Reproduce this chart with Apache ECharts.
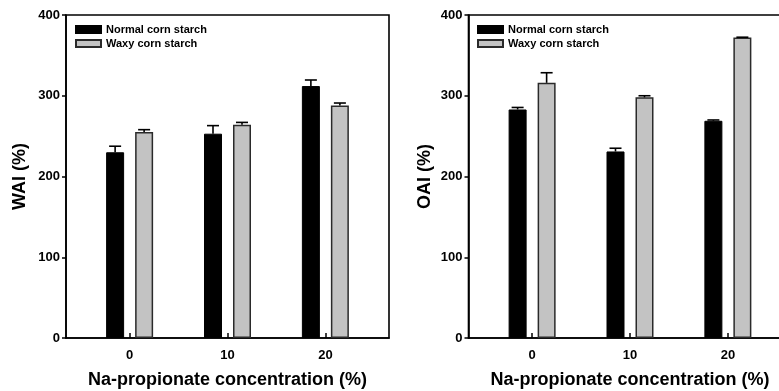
<!DOCTYPE html>
<html>
<head>
<meta charset="utf-8">
<script src="https://cdn.jsdelivr.net/npm/echarts@6/dist/echarts.min.js"></script>
<style>
  html, body { margin: 0; padding: 0; background: #fff; overflow: hidden; }
  #chart { width: 795px; height: 391px; }
</style>
</head>
<body>
<div id="chart"></div>
<script>
// Na-propionate concentrations (%)
const concentrations = [0, 10, 20];
const tickValues = [0, 10, 20];
const seriesNames = ['Normal corn starch', 'Waxy corn starch'];

// Water absorption index (%), mean and standard deviation
const waiNormal = [230, 253, 312];
const waiNormalErr = [7.5, 10, 7.5];
const waiWaxy = [255, 264, 288];
const waiWaxyErr = [3, 3, 3];

// Oil absorption index (%), mean and standard deviation
const oaiNormal = [283, 231, 269];
const oaiNormalErr = [2.5, 4, 1];
const oaiWaxy = [316, 298, 372];
const oaiWaxyErr = [12.5, 2, 0.5];

const FONT = '"Liberation Sans", Arial, Helvetica, sans-serif';
const chart = echarts.init(document.getElementById('chart'), null, { renderer: 'canvas' });

const pairs = (vals) => concentrations.map((c, i) => [c, vals[i]]);
const triples = (vals, errs) => concentrations.map((c, i) => [c, vals[i], errs[i]]);

const BAR_W = 18;
const BAR_GAP = 11;
const OFFSET = (BAR_W + BAR_GAP) / 2;

// upper-only error bars with a cap, centred on each bar
function errorBar(offset) {
  return function (params, api) {
    const x = api.value(0), v = api.value(1), e = api.value(2);
    const base = api.coord([x, v]);
    const top = api.coord([x, v + e]);
    const cx = base[0] + offset;
    const style = { stroke: '#000', lineWidth: 1.6 };
    return {
      type: 'group',
      children: [
        { type: 'line', shape: { x1: cx, y1: base[1], x2: cx, y2: top[1] }, style },
        { type: 'line', shape: { x1: cx - 6, y1: top[1], x2: cx + 6, y2: top[1] }, style }
      ]
    };
  };
}

function makeXAxis(gridIndex) {
  return {
    type: 'value', gridIndex, min: -6.5, max: 26.5,
    name: 'Na-propionate concentration (%)',
    nameLocation: 'middle', nameGap: 33,
    nameTextStyle: { fontFamily: FONT, fontWeight: 'bold', fontSize: 18, color: '#000' },
    axisLine: { show: true, onZero: false, lineStyle: { color: '#000', width: 1.6 } },
    axisTick: { show: true, inside: true, length: 5, customValues: tickValues, lineStyle: { color: '#000', width: 1.5 } },
    axisLabel: { customValues: tickValues, margin: 11, fontFamily: FONT, fontWeight: 'bold', fontSize: 13, color: '#000' },
    splitLine: { show: false }
  };
}

function makeYAxis(gridIndex, name, nameGap) {
  return {
    type: 'value', gridIndex, min: 0, max: 400, interval: 100,
    name, nameLocation: 'middle', nameGap,
    nameTextStyle: { fontFamily: FONT, fontWeight: 'bold', fontSize: 18, color: '#000' },
    axisLine: { show: true, onZero: false, lineStyle: { color: '#000', width: 1.6 } },
    axisTick: { show: true, inside: false, length: 4, lineStyle: { color: '#000', width: 1.5 } },
    axisLabel: { margin: 6, fontFamily: FONT, fontWeight: 'bold', fontSize: 13, color: '#000' },
    splitLine: { show: false }
  };
}

const normalStyle = { color: '#000', borderColor: '#000', borderWidth: 1 };
const waxyStyle = { color: '#c3c3c3', borderColor: '#2a2a2a', borderWidth: 1.5 };

function barSeries(name, data, idx, style) {
  return {
    type: 'bar', name, xAxisIndex: idx, yAxisIndex: idx,
    data, barWidth: BAR_W, barGap: (BAR_GAP / BAR_W * 100) + '%',
    itemStyle: style, emphasis: { disabled: true }, z: 2
  };
}

function errSeries(data, idx, offset) {
  return {
    type: 'custom', xAxisIndex: idx, yAxisIndex: idx,
    renderItem: errorBar(offset), data,
    encode: { x: 0, y: 1 }, z: 3, silent: true
  };
}

function makeLegend(left) {
  return {
    data: seriesNames, orient: 'vertical', left, top: 24, padding: 0,
    icon: 'rect', itemWidth: 25, itemHeight: 7, itemGap: 3,
    textStyle: { fontFamily: FONT, fontWeight: 'bold', fontSize: 11, color: '#000' },
    selectedMode: false
  };
}

function makeGrid(left) {
  return {
    left, top: 15, width: 323, height: 323,
    outerBoundsMode: 'none', containLabel: false,
    show: true, borderColor: '#000', borderWidth: 1.6, backgroundColor: 'transparent'
  };
}

const option = {
  animation: false,
  backgroundColor: '#fff',
  grid: [makeGrid(66), makeGrid(468.5)],
  legend: [makeLegend(75), makeLegend(477)],
  xAxis: [makeXAxis(0), makeXAxis(1)],
  yAxis: [makeYAxis(0, 'WAI (%)', 37), makeYAxis(1, 'OAI (%)', 34)],
  series: [
    barSeries(seriesNames[0], pairs(waiNormal), 0, normalStyle),
    barSeries(seriesNames[1], pairs(waiWaxy), 0, waxyStyle),
    barSeries(seriesNames[0], pairs(oaiNormal), 1, normalStyle),
    barSeries(seriesNames[1], pairs(oaiWaxy), 1, waxyStyle),
    errSeries(triples(waiNormal, waiNormalErr), 0, -OFFSET),
    errSeries(triples(waiWaxy, waiWaxyErr), 0, OFFSET),
    errSeries(triples(oaiNormal, oaiNormalErr), 1, -OFFSET),
    errSeries(triples(oaiWaxy, oaiWaxyErr), 1, OFFSET)
  ]
};

chart.setOption(option);
</script>
</body>
</html>
